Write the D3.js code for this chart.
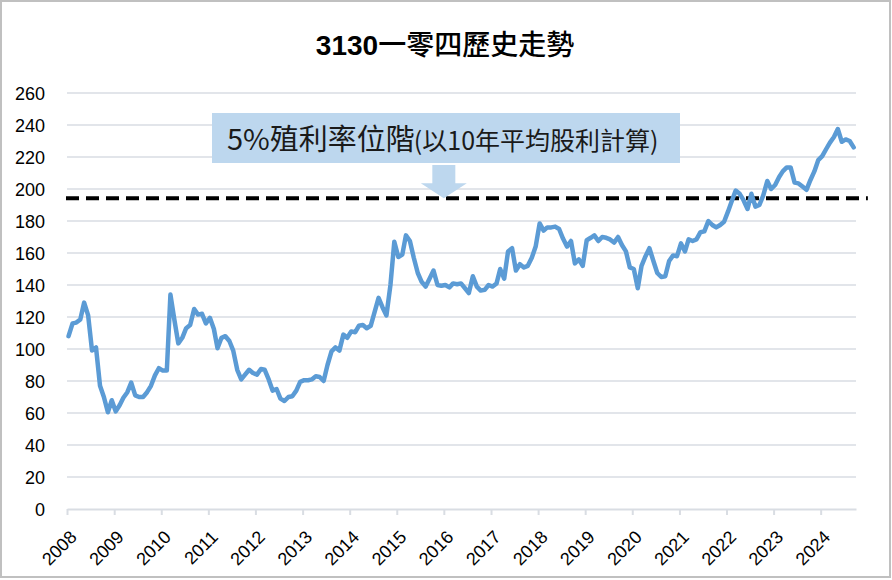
<!DOCTYPE html>
<html>
<head>
<meta charset="utf-8">
<script src="https://cdn.jsdelivr.net/npm/d3@7"></script>
<style>
  body { margin: 0; background: #fff; }
  svg { display: block; }
  .tick text { font-family: "Liberation Sans", Arial, sans-serif; font-size: 18px; fill: #000; }
</style>
</head>
<body>
<script>
// monthly closing prices, one array per year (Jan..Dec)
var p2008 = [108, 116, 116.5, 118.5, 129, 121, 99, 101, 77, 70, 60.5, 68];
var p2009 = [61, 65, 69.5, 73, 79, 71, 70, 70, 73, 77, 83.5, 88];
var p2010 = [86.5, 86.5, 134, 118, 103.5, 107, 113, 115, 125, 121.5, 122, 116];
var p2011 = [119.5, 112.5, 100.5, 107, 108, 105, 99, 87, 81, 84, 87, 85];
var p2012 = [84, 87.5, 87, 81, 74, 75, 69, 67.5, 70, 70.5, 74, 79.5];
var p2013 = [80.5, 80.5, 81, 83, 82.5, 80, 90, 98.5, 101, 99, 109, 107];
var p2014 = [111, 110.5, 114.5, 115, 113, 114.5, 123, 132, 126, 121, 140, 167];
var p2015 = [157.5, 159, 171, 167.5, 157, 147.5, 142, 139, 144, 149, 140, 139.5];
var p2016 = [140, 138.5, 141, 140.5, 141, 138, 135, 145.5, 139, 136.5, 137, 140];
var p2017 = [139, 141, 150, 144, 161, 163, 149, 153, 151, 152, 157, 164];
var p2018 = [178.5, 174, 176, 176, 176.5, 175, 169, 164, 167.5, 153.5, 156, 152];
var p2019 = [168, 169.5, 171, 167.5, 170, 169.5, 168.5, 166.5, 170, 165, 161, 151];
var p2020 = [150, 138, 152, 158, 163, 155, 147.5, 145, 145.5, 155, 158.5, 158];
var p2021 = [166, 161, 168.5, 167.5, 168.5, 173, 173.5, 180, 177.5, 176, 177.5, 179.5];
var p2022 = [186, 193, 199, 197, 193, 187.5, 197, 189, 190, 196, 205, 200];
var p2023 = [202.5, 207.5, 211, 213.5, 213.5, 204, 203.5, 201.5, 199.5, 205.5, 211, 218];
var p2024 = [220.5, 225, 229, 232.5, 237.5, 229.5, 231, 230, 226];

var years = [2008, 2009, 2010, 2011, 2012, 2013, 2014, 2015, 2016, 2017, 2018, 2019, 2020, 2021, 2022, 2023, 2024];
var yearly = [p2008, p2009, p2010, p2011, p2012, p2013, p2014, p2015, p2016, p2017, p2018, p2019, p2020, p2021, p2022, p2023, p2024];
var yTicks = [0, 20, 40, 60, 80, 100, 120, 140, 160, 180, 200, 220, 240, 260];

var titleNum = "3130";
var titleText = "一零四歷史走勢";
var noteBig = "5%殖利率位階";
var noteSmall = "(以10年平均股利計算)";
var yieldLevel = 194.2;   // 5% yield price level
var noteDate = new Date(2016, 0, 1);

var data = [];
yearly.forEach(function(arr, i) {
  arr.forEach(function(v, m) { data.push({ date: new Date(years[i], m, 13), value: v }); });
});

var width = 892, height = 580;

var svg = d3.select('body').append('svg')
    .attr('width', width)
    .attr('height', height);

svg.append('rect')
    .attr('x', 1).attr('y', 1)
    .attr('width', width - 3).attr('height', height - 4)
    .attr('fill', '#fff')
    .attr('stroke', '#c0c0c0')
    .attr('stroke-width', 2);

var x = d3.scaleTime()
    .domain([new Date(2008, 0, 1), new Date(2024, 9, 1)])
    .range([67, 856]);
var y = d3.scaleLinear().domain([0, 260]).range([509, 93]);

// grid
svg.append('g').selectAll('line')
    .data(yTicks.filter(d => d > 0))
  .enter().append('line')
    .attr('x1', x.range()[0]).attr('x2', x.range()[1])
    .attr('y1', d => y(d)).attr('y2', d => y(d))
    .attr('stroke', '#d9dde3')
    .attr('stroke-width', 1.5);

// y axis (labels only)
var yAxis = svg.append('g')
    .attr('transform', 'translate(45,0)')
    .call(d3.axisLeft(y).tickValues(yTicks).tickSize(0).tickPadding(0));
yAxis.select('.domain').remove();
yAxis.selectAll('text').attr('dy', '0.35em');

// x axis
var xAxis = svg.append('g')
    .attr('transform', 'translate(0,' + y(0) + ')')
    .call(d3.axisBottom(x)
      .tickValues(years.map(yr => new Date(yr, 0, 1)))
      .tickFormat(d3.timeFormat('%Y'))
      .tickSize(6)
      .tickSizeOuter(0));
xAxis.select('.domain').attr('stroke', '#d9dde3').attr('stroke-width', 2);
xAxis.selectAll('.tick line').attr('stroke', '#d9dde3').attr('stroke-width', 2);
xAxis.selectAll('.tick text')
    .attr('text-anchor', 'end')
    .attr('dy', null)
    .attr('y', 0)
    .attr('transform', 'translate(6,25) rotate(-45)')
    .attr('dominant-baseline', 'central');

// 5% yield line
svg.append('line')
    .attr('x1', x(new Date(2008, 0, 1)) - 1)
    .attr('x2', x(new Date(2025, 0, 1)))
    .attr('y1', y(yieldLevel)).attr('y2', y(yieldLevel))
    .attr('stroke', '#000')
    .attr('stroke-width', 4)
    .attr('stroke-dasharray', '13,7');

// price line
var line = d3.line().x(d => x(d.date)).y(d => y(d.value));
svg.append('path')
    .datum(data)
    .attr('d', line)
    .attr('fill', 'none')
    .attr('stroke', '#5b9bd5')
    .attr('stroke-width', 4.5)
    .attr('stroke-linejoin', 'round')
    .attr('stroke-linecap', 'round');

// annotation box + arrow
var ax = x(noteDate);
var boxTop = 113, boxBottom = 163, tip = y(yieldLevel);
svg.append('rect')
    .attr('x', 212).attr('y', boxTop)
    .attr('width', 468).attr('height', boxBottom - boxTop)
    .attr('fill', '#bdd7ee');
svg.append('path')
    .attr('d', d3.line()([
      [ax - 11.5, boxBottom + 2], [ax + 11.5, boxBottom + 2], [ax + 11.5, tip - 15],
      [ax + 23, tip - 15], [ax, tip], [ax - 23, tip - 15], [ax - 11.5, tip - 15]
    ]) + 'Z')
    .attr('fill', '#bdd7ee');

var note = svg.append('text')
    .attr('x', 227).attr('y', 150)
    .attr('font-family', '"Noto Sans CJK TC", "Noto Sans", sans-serif')
    .attr('fill', '#1a1a1a');
note.append('tspan').attr('font-size', 29).text(noteBig);
note.append('tspan').attr('font-size', 25).attr('dx', -1).text(noteSmall);

// title
var title = svg.append('text')
    .attr('x', 445).attr('y', 55)
    .attr('text-anchor', 'middle')
    .attr('fill', '#000');
title.append('tspan')
    .attr('font-family', '"Liberation Sans", Arial, sans-serif')
    .attr('font-weight', 'bold')
    .attr('font-size', 28)
    .text(titleNum);
title.append('tspan')
    .attr('font-family', '"Noto Sans CJK TC", sans-serif')
    .attr('font-weight', 500)
    .attr('font-size', 28)
    .text(titleText);
</script>
</body>
</html>
